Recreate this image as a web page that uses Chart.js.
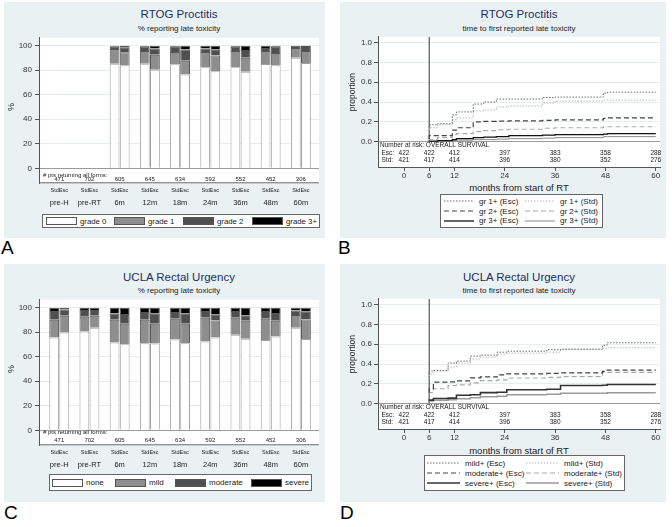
<!DOCTYPE html>
<html>
<head>
<meta charset="utf-8">
<title>Late toxicity</title>
<script src="https://cdn.jsdelivr.net/npm/chart.js@4.4.1/dist/chart.umd.min.js"></script>
<style>
  body { margin: 0; background: #fff; font-family: "Liberation Sans", Arial, sans-serif; }
  #page { position: relative; width: 672px; height: 527px; overflow: hidden; }
  .panel { position: absolute; background: #eaf1f3; }
  .abs { position: absolute; white-space: nowrap; }
  .title { text-align: center; color: #1c2f5f; font-size: 11.5px; line-height: 11px; }
  .sub { text-align: center; color: #222; font-size: 8px; line-height: 8px; }
  .xtitle { text-align: center; color: #222; font-size: 9.5px; line-height: 10px; }
  .letter { font-size: 19px; line-height: 19px; color: #000; }
  .legend { position: absolute; background: #fff; border: 1px solid #666; box-sizing: border-box;
            font-size: 8px; color: #222; display: grid; align-items: center; }
  .legend .item { display: flex; align-items: center; white-space: nowrap; }
  .sw { width: 31px; height: 8px; border: 1px solid #555; box-sizing: border-box; margin-right: 3px; flex: none; }
  canvas { position: absolute; }
</style>
</head>
<body>
<div id="page">
  <div class="panel" style="left:4px;top:2px;width:321px;height:236px"></div>
  <div class="panel" style="left:340px;top:2px;width:326px;height:236px"></div>
  <div class="panel" style="left:4px;top:264px;width:321px;height:238px"></div>
  <div class="panel" style="left:340px;top:264px;width:326px;height:238px"></div>

  <div class="abs title" style="left:39px;width:280px;top:9px">RTOG Proctitis</div>
  <div class="abs sub" style="left:39px;width:280px;top:25px">% reporting late toxicity</div>
  <div class="abs title" style="left:378px;width:282px;top:8.5px">RTOG Proctitis</div>
  <div class="abs sub" style="left:378px;width:282px;top:25px">time to first reported late toxicity</div>
  <div class="abs title" style="left:39px;width:280px;top:272px">UCLA Rectal Urgency</div>
  <div class="abs sub" style="left:39px;width:280px;top:287px">% reporting late toxicity</div>
  <div class="abs title" style="left:378px;width:282px;top:272px">UCLA Rectal Urgency</div>
  <div class="abs sub" style="left:378px;width:282px;top:287px">time to first reported late toxicity</div>

  <canvas id="chartA" width="321" height="178" style="left:4px;top:30px"></canvas>
  <canvas id="chartB" width="326" height="151" style="left:340px;top:30px"></canvas>
  <canvas id="chartC" width="321" height="178" style="left:4px;top:292.3px"></canvas>
  <canvas id="chartD" width="326" height="151" style="left:340px;top:292.3px"></canvas>

  <div class="abs xtitle" style="left:378px;width:282px;top:183px">months from start of RT</div>
  <div class="abs xtitle" style="left:378px;width:282px;top:445.5px">months from start of RT</div>

  <div id="legA" class="legend" style="left:42px;top:214px;width:278px;height:14px;padding-left:3px;font-size:7.8px;grid-template-columns:68px 69px 69px auto"></div>
  <div id="legC" class="legend" style="left:49px;top:474px;width:263px;height:17px;padding-left:2px;grid-template-columns:63px 60px 76px auto"></div>
  <div id="legB" class="legend" style="left:440px;top:194px;width:163px;height:34px;padding-left:3px;grid-template-columns:81px auto;grid-auto-rows:9.7px;align-content:center"></div>
  <div id="legD" class="legend" style="left:424px;top:455px;width:201px;height:36px;padding-left:2px;grid-template-columns:99px auto;grid-auto-rows:10px;align-content:center"></div>

  <div class="abs letter" style="left:1px;top:238px">A</div>
  <div class="abs letter" style="left:338px;top:238px">B</div>
  <div class="abs letter" style="left:4px;top:503px">C</div>
  <div class="abs letter" style="left:340px;top:503px">D</div>
</div>

<script>
// ---- data ----
const categories = ['pre-H', 'pre-RT', '6m', '12m', '18m', '24m', '36m', '48m', '60m'];
const armLabel = 'StdEsc';
const ptsReturning = [471, 702, 605, 645, 634, 592, 552, 452, 306];
const pctTicks = [0, 20, 40, 60, 80, 100];

// RTOG proctitis: % of patients at each grade, Std arm and Esc arm
const rtogStd0 = [null, null, 85.3, 85.3, 84.8, 82.4, 82.4, 85.1, 90.1];
const rtogStd1 = [null, null, 12.0, 10.4, 10.1, 12.5, 13.3, 10.6, 8.0];
const rtogStd2 = [null, null, 1.9, 3.5, 4.3, 2.7, 3.5, 2.4, 1.9];
const rtogStd3 = [null, null, 0.8, 0.8, 0.8, 2.4, 0.8, 1.9, 0];
const rtogEsc0 = [null, null, 84.0, 80.3, 76.5, 79.2, 78.7, 84.0, 85.9];
const rtogEsc1 = [null, null, 10.7, 12.2, 11.2, 12.8, 11.4, 10.1, 9.8];
const rtogEsc2 = [null, null, 4.0, 5.1, 9.1, 5.1, 6.4, 5.1, 4.0];
const rtogEsc3 = [null, null, 1.3, 2.4, 3.2, 2.9, 3.5, 0.8, 0.3];

// UCLA rectal urgency: none / mild / moderate / severe
const uclaStd0 = [75.7, 80.5, 71.5, 70.9, 74.1, 72.5, 77.9, 73.6, 83.7];
const uclaStd1 = [14.4, 12.0, 18.6, 19.2, 16.8, 19.2, 13.8, 17.3, 10.4];
const uclaStd2 = [7.2, 5.6, 5.1, 6.4, 5.6, 5.6, 5.6, 6.4, 3.5];
const uclaStd3 = [2.7, 1.9, 4.8, 3.5, 3.5, 2.7, 2.7, 2.7, 2.4];
const uclaEsc0 = [79.7, 83.7, 70.1, 70.7, 70.9, 75.7, 74.7, 76.5, 74.4];
const uclaEsc1 = [13.6, 9.6, 16.8, 16.2, 16.0, 13.9, 14.6, 12.8, 16.0];
const uclaEsc2 = [5.1, 4.8, 8.0, 8.6, 8.6, 5.1, 4.6, 6.4, 6.7];
const uclaEsc3 = [1.6, 1.9, 5.1, 4.5, 4.5, 5.3, 6.1, 4.3, 2.9];

// number at risk
const riskMonths = [0, 6, 12, 24, 36, 48, 60];
const riskEsc = [422, 422, 412, 397, 383, 358, 288];
const riskStd = [421, 417, 414, 396, 380, 352, 276];
const monthTicks = [0, 6, 12, 24, 36, 48, 60];
const propTicks = [0, 0.2, 0.4, 0.6, 0.8, 1.0];
const startMonth = 6;

// cumulative proportion with first late toxicity (step curves)
const rtogMonths = [6, 8, 11.5, 12.5, 16.5, 19, 22, 25, 33, 36, 47.5, 48.5, 60];
const rtogGr1Esc = [0.14, 0.17, 0.18, 0.27, 0.30, 0.38, 0.40, 0.43, 0.43, 0.445, 0.45, 0.49, 0.50];
const rtogGr1Std = [0.12, 0.14, 0.17, 0.22, 0.24, 0.31, 0.32, 0.35, 0.36, 0.39, 0.41, 0.42, 0.42];
const rtogGr2Esc = [0.025, 0.06, 0.06, 0.115, 0.14, 0.20, 0.205, 0.207, 0.21, 0.214, 0.22, 0.235, 0.24];
const rtogGr2Std = [0.01, 0.02, 0.04, 0.07, 0.08, 0.10, 0.11, 0.12, 0.125, 0.135, 0.14, 0.15, 0.15];
const rtogGr3Esc = [0, 0.005, 0.01, 0.02, 0.03, 0.04, 0.045, 0.05, 0.06, 0.065, 0.07, 0.075, 0.08];
const rtogGr3Std = [0, 0, 0.005, 0.01, 0.015, 0.02, 0.02, 0.025, 0.03, 0.035, 0.04, 0.05, 0.05];

const uclaMonths = [6, 7, 10.5, 12.5, 15.8, 18.2, 22.2, 24.5, 34, 37.3, 47.3, 48.4, 60];
const uclaMildEsc = [0.26, 0.33, 0.335, 0.41, 0.43, 0.48, 0.49, 0.52, 0.53, 0.545, 0.55, 0.59, 0.615];
const uclaMildStd = [0.25, 0.30, 0.33, 0.37, 0.41, 0.45, 0.47, 0.50, 0.51, 0.52, 0.55, 0.56, 0.565];
const uclaModEsc = [0.108, 0.15, 0.217, 0.22, 0.23, 0.26, 0.27, 0.29, 0.30, 0.305, 0.31, 0.325, 0.338];
const uclaModStd = [0.095, 0.11, 0.15, 0.183, 0.19, 0.21, 0.233, 0.24, 0.259, 0.265, 0.272, 0.315, 0.315];
const uclaSevEsc = [0.029, 0.035, 0.052, 0.055, 0.085, 0.09, 0.111, 0.115, 0.14, 0.145, 0.183, 0.185, 0.193];
const uclaSevStd = [0.02, 0.025, 0.035, 0.04, 0.05, 0.06, 0.07, 0.075, 0.09, 0.095, 0.105, 0.105, 0.11];

// ---- styling ----
const FONT = '"Liberation Sans", Arial, sans-serif';
const gradeColors = ['#ffffff', '#8e8e8e', '#4f4f4f', '#000000'];
const catMin = -0.67, catMax = 8.6;      // x range of the bar panels
const pctMin = -12.2, pctMax = 106.4;    // room below 0 for the patient counts
const monthMin = -6.2, monthMax = 61;
const propMin = -0.257, propMax = 1.06;  // room below 0 for the risk table

const whiteArea = {
  id: 'whiteArea',
  beforeDraw(chart) {
    const {ctx, chartArea: a} = chart;
    ctx.save();
    ctx.fillStyle = '#fff';
    ctx.fillRect(a.left, a.top, a.right - a.left, a.bottom - a.top);
    ctx.restore();
  }
};

function barText(yTitle, hdrUp, numUp) {
  return {
    id: 'barText',
    afterDraw(chart) {
      const {ctx, chartArea: a, scales: {x, y}} = chart;
      ctx.save();
      ctx.strokeStyle = '#666';
      ctx.lineWidth = 1;
      ctx.beginPath();
      ctx.moveTo(a.left, a.bottom - 0.5);
      ctx.lineTo(a.right, a.bottom - 0.5);
      ctx.stroke();
      ctx.fillStyle = '#222';
      ctx.textBaseline = 'middle';
      ctx.textAlign = 'left';
      ctx.font = '6px ' + FONT;
      ctx.fillText('# pts returning all forms:', a.left + 4, a.bottom - hdrUp);
      ctx.textAlign = 'center';
      categories.forEach((c, i) => {
        const px = x.getPixelForValue(i);
        ctx.font = '6px ' + FONT;
        ctx.fillText(String(ptsReturning[i]), px, a.bottom - numUp);
        ctx.font = '5.5px ' + FONT;
        ctx.fillText(armLabel, px, a.bottom + 7);
        ctx.font = '7.5px ' + FONT;
        ctx.fillText(c, px, a.bottom + 20);
      });
      ctx.translate(8, y.getPixelForValue(50));
      ctx.rotate(-Math.PI / 2);
      ctx.font = '9px ' + FONT;
      ctx.fillText(yTitle, 0, 0);
      ctx.restore();
    }
  };
}

const riskTable = {
  id: 'riskTable',
  afterDraw(chart) {
    const {ctx, chartArea: a, scales: {x, y}} = chart;
    const y0 = y.getPixelForValue(0);
    ctx.save();
    ctx.fillStyle = '#222';
    ctx.textBaseline = 'middle';
    ctx.textAlign = 'left';
    ctx.font = '6.5px ' + FONT;
    ctx.fillText('Number at risk: OVERALL SURVIVAL', a.left + 2, y0 + 3.5);
    ctx.fillText('Esc:', a.left + 3.5, y0 + 11.3);
    ctx.fillText('Std:', a.left + 3.5, y0 + 19);
    ctx.textAlign = 'center';
    riskMonths.forEach((m, i) => {
      const px = x.getPixelForValue(m);
      ctx.fillText(String(riskEsc[i]), px, y0 + 11.3);
      ctx.fillText(String(riskStd[i]), px, y0 + 19);
    });
    ctx.translate(12.7, y.getPixelForValue(0.5));
    ctx.rotate(-Math.PI / 2);
    ctx.font = '8.5px ' + FONT;
    ctx.fillText('proportion', 0, 0);
    ctx.restore();
  }
};

function barChart(id, std, esc, yTitle, hdrUp, numUp) {
  const datasets = [];
  [['Std', std], ['Esc', esc]].forEach(([arm, grades]) => {
    grades.forEach((vals, g) => datasets.push({
      label: 'grade ' + g + ' ' + arm,
      data: vals.map((v, i) => ({x: i, y: v})),
      backgroundColor: gradeColors[g],
      borderColor: g === 0 ? '#a0a0a0' : '#555',
      borderWidth: 1,
      stack: arm,
      categoryPercentage: 0.67,
      barPercentage: 0.97
    }));
  });
  return new Chart(document.getElementById(id), {
    type: 'bar',
    data: {datasets},
    options: {
      responsive: false,
      animation: false,
      events: [],
      layout: {padding: {top: 5, right: 6, bottom: 24.7, left: 0}},
      plugins: {legend: {display: false}, tooltip: {enabled: false}},
      scales: {
        x: {
          type: 'linear', display: false, offset: false, stacked: true,
          min: catMin, max: catMax,
          afterBuildTicks: ax => { ax.ticks = categories.map((c, i) => ({value: i})); }
        },
        y: {
          stacked: true, min: pctMin, max: pctMax,
          afterBuildTicks: ax => { ax.ticks = pctTicks.map(v => ({value: v})); },
          afterFit: ax => { ax.width = 35; },
          grid: {
            color: c => (c.tick && c.tick.value === 0) ? '#9a9a9a' : '#e6edf0',
            tickColor: '#555', tickLength: 4
          },
          border: {color: '#555'},
          ticks: {padding: 3, color: '#333', font: {size: 8, family: FONT}}
        }
      }
    },
    plugins: [whiteArea, barText(yTitle, hdrUp, numUp)]
  });
}

function lineChart(id, months, series) {
  const datasets = series.map(s => ({
    label: s.label,
    data: months.map((m, i) => ({x: m, y: s.data[i]})),
    borderColor: s.color,
    borderWidth: s.width,
    borderDash: s.dash,
    stepped: 'after',
    pointRadius: 0,
    fill: false
  }));
  datasets.push({
    label: 'start of follow-up',
    data: [{x: startMonth, y: 0}, {x: startMonth, y: propMax}],
    borderColor: '#333', borderWidth: 1, pointRadius: 0, fill: false
  });
  return new Chart(document.getElementById(id), {
    type: 'line',
    data: {datasets},
    options: {
      responsive: false,
      animation: false,
      events: [],
      layout: {padding: {top: 4, right: 6, bottom: 0, left: 0}},
      plugins: {legend: {display: false}, tooltip: {enabled: false}},
      scales: {
        x: {
          type: 'linear', min: monthMin, max: monthMax,
          afterBuildTicks: ax => { ax.ticks = monthTicks.map(v => ({value: v})); },
          afterFit: ax => { ax.height = 14; },
          grid: {drawOnChartArea: false, tickColor: '#555', tickLength: 4},
          border: {color: '#555'},
          ticks: {padding: 0, color: '#333', autoSkip: false, maxRotation: 0, font: {size: 8, family: FONT}}
        },
        y: {
          min: propMin, max: propMax,
          afterBuildTicks: ax => { ax.ticks = propTicks.map(v => ({value: v})); },
          afterFit: ax => { ax.width = 38; },
          grid: {
            color: c => (c.tick && c.tick.value === 0) ? '#9a9a9a' : '#e6edf0',
            tickColor: '#555', tickLength: 4
          },
          border: {color: '#555'},
          ticks: {padding: 2, color: '#333', font: {size: 8, family: FONT}, callback: v => v.toFixed(1)}
        }
      }
    },
    plugins: [whiteArea, riskTable]
  });
}

function barLegend(id, labels) {
  document.getElementById(id).innerHTML = labels.map((t, g) =>
    `<div class="item"><span class="sw" style="background:${gradeColors[g]}"></span>${t}</div>`).join('');
}

function lineLegend(id, series, len) {
  document.getElementById(id).innerHTML = series.map(s =>
    `<div class="item"><svg width="${len}" height="6" style="margin-right:5px;flex:none">` +
    `<line x1="0" y1="3" x2="${len}" y2="3" stroke="${s.color}" stroke-width="${s.width}"` +
    (s.dash.length ? ` stroke-dasharray="${s.dash.join(',')}"` : '') + `/></svg>${s.label}</div>`).join('');
}

const rtogSeries = [
  {label: 'gr 1+ (Esc)', data: rtogGr1Esc, color: '#6e6e6e', dash: [1.5, 1.5], width: 1},
  {label: 'gr 1+ (Std)', data: rtogGr1Std, color: '#b8b8b8', dash: [1.5, 1.5], width: 1},
  {label: 'gr 2+ (Esc)', data: rtogGr2Esc, color: '#444', dash: [5, 3], width: 1.2},
  {label: 'gr 2+ (Std)', data: rtogGr2Std, color: '#aaa', dash: [5, 3], width: 1.2},
  {label: 'gr 3+ (Esc)', data: rtogGr3Esc, color: '#111', dash: [], width: 1.3},
  {label: 'gr 3+ (Std)', data: rtogGr3Std, color: '#888', dash: [], width: 1}
];
const uclaSeries = [
  {label: 'mild+ (Esc)', data: uclaMildEsc, color: '#6e6e6e', dash: [1.5, 1.5], width: 1},
  {label: 'mild+ (Std)', data: uclaMildStd, color: '#b8b8b8', dash: [1.5, 1.5], width: 1},
  {label: 'moderate+ (Esc)', data: uclaModEsc, color: '#444', dash: [5, 3], width: 1.2},
  {label: 'moderate+ (Std)', data: uclaModStd, color: '#aaa', dash: [5, 3], width: 1.2},
  {label: 'severe+ (Esc)', data: uclaSevEsc, color: '#333', dash: [], width: 1.6},
  {label: 'severe+ (Std)', data: uclaSevStd, color: '#9a9a9a', dash: [], width: 1.5}
];

barChart('chartA', [rtogStd0, rtogStd1, rtogStd2, rtogStd3], [rtogEsc0, rtogEsc1, rtogEsc2, rtogEsc3], '%', 8.3, 3.8);
barChart('chartC', [uclaStd0, uclaStd1, uclaStd2, uclaStd3], [uclaEsc0, uclaEsc1, uclaEsc2, uclaEsc3], '%', 12.5, 4.6);
lineChart('chartB', rtogMonths, rtogSeries);
lineChart('chartD', uclaMonths, uclaSeries);

barLegend('legA', ['grade 0', 'grade 1', 'grade 2', 'grade 3+']);
barLegend('legC', ['none', 'mild', 'moderate', 'severe']);
lineLegend('legB', rtogSeries, 30);
lineLegend('legD', uclaSeries, 33);
</script>
</body>
</html>
